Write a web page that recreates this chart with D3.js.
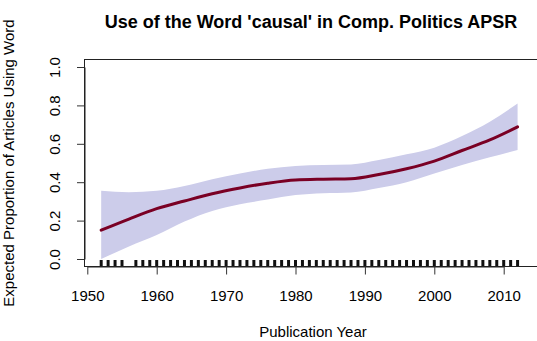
<!DOCTYPE html>
<html>
<head>
<meta charset="utf-8">
<script src="https://cdn.jsdelivr.net/npm/d3@7"></script>
<style>
  html, body { margin: 0; padding: 0; background: #fff; }
  svg { display: block; font-family: "Liberation Sans", Arial, sans-serif; }
</style>
</head>
<body>
<svg id="chart" width="537" height="341"></svg>
<script>
// Smoothed estimate of the share of articles using the word, with its interval
const years = [1952, 1956, 1960, 1964, 1968, 1972, 1976, 1980, 1984, 1988, 1992, 1996, 2000, 2004, 2008, 2012];
const fitMean = [0.150, 0.208, 0.262, 0.302, 0.340, 0.370, 0.395, 0.412, 0.416, 0.418, 0.440, 0.470, 0.510, 0.565, 0.620, 0.688];
const fitUpper = [0.355, 0.348, 0.355, 0.380, 0.415, 0.445, 0.470, 0.485, 0.490, 0.492, 0.515, 0.545, 0.580, 0.640, 0.715, 0.810];
const fitLower = [0.000, 0.065, 0.125, 0.195, 0.250, 0.285, 0.310, 0.333, 0.343, 0.347, 0.370, 0.400, 0.445, 0.490, 0.530, 0.568];

// Publication years of the articles (rug along the bottom)
const rugYears = [1952, 1953, 1954, 1955,
  1957, 1958, 1959, 1960, 1961, 1962, 1963, 1964, 1965, 1966, 1967, 1968, 1969, 1970,
  1971, 1972, 1973, 1974, 1975, 1976, 1977, 1978, 1979, 1980, 1981, 1982, 1983, 1984,
  1985, 1986, 1987, 1988, 1989, 1990, 1991, 1992, 1993, 1994, 1995, 1996, 1997, 1998,
  1999, 2000, 2001, 2002, 2003, 2004, 2005, 2006, 2007, 2008, 2009, 2010, 2011, 2012];

const xTicks = [1950, 1960, 1970, 1980, 1990, 2000, 2010];
const yTicks = [0, 0.2, 0.4, 0.6, 0.8, 1.0];

const titleText = "Use of the Word 'causal' in Comp. Politics APSR";
const xLabel = "Publication Year";
const yLabel = "Expected Proportion of Articles Using Word";

const svg = d3.select("#chart");

// plot frame
const frame = { left: 84.5, top: 59.5, bottom: 266.5, right: 545 };

const x = d3.scaleLinear().domain([1950, 2010]).range([87.3, 503.7]);
const y = d3.scaleLinear().domain([0, 1]).range([259, 67]);

const rows = years.map((yr, i) => ({ yr, m: fitMean[i], lo: fitLower[i], hi: fitUpper[i] }));

// confidence band
svg.append("path")
  .datum(rows)
  .attr("fill", "#ccccea")
  .attr("stroke", "none")
  .attr("d", d3.area()
    .x(d => x(d.yr))
    .y0(d => y(d.lo))
    .y1(d => y(d.hi))
    .curve(d3.curveMonotoneX));

// fitted line
svg.append("path")
  .datum(rows)
  .attr("fill", "none")
  .attr("stroke", "#7a0024")
  .attr("stroke-width", 3)
  .attr("stroke-linecap", "round")
  .attr("d", d3.line()
    .x(d => x(d.yr))
    .y(d => y(d.m))
    .curve(d3.curveMonotoneX));

// rug
svg.append("g")
  .selectAll("line")
  .data(rugYears)
  .join("line")
  .attr("x1", d => x(d))
  .attr("x2", d => x(d))
  .attr("y1", frame.bottom - 6.5)
  .attr("y2", frame.bottom)
  .attr("stroke", "#111")
  .attr("stroke-width", 3);

// box
svg.append("rect")
  .attr("x", frame.left)
  .attr("y", frame.top)
  .attr("width", frame.right - frame.left)
  .attr("height", frame.bottom - frame.top)
  .attr("fill", "none")
  .attr("stroke", "#222")
  .attr("stroke-width", 1);

// x axis
const xAxis = d3.axisBottom(x)
  .tickValues(xTicks)
  .tickFormat(d3.format("d"))
  .tickSize(8)
  .tickPadding(16)
  .tickSizeOuter(0);
const gx = svg.append("g")
  .attr("transform", `translate(0,${frame.bottom})`)
  .call(xAxis);
gx.select(".domain").attr("stroke", "#222");
gx.selectAll(".tick line").attr("stroke", "#333");
gx.selectAll(".tick text")
  .attr("font-size", 15)
  .attr("font-family", "Liberation Sans, Arial, sans-serif")
  .attr("fill", "#000");

// y axis
const yAxis = d3.axisLeft(y)
  .tickValues(yTicks)
  .tickFormat(d3.format(".1f"))
  .tickSize(7.5)
  .tickSizeOuter(0);
const gy = svg.append("g")
  .attr("transform", `translate(${frame.left},0)`)
  .call(yAxis);
gy.select(".domain").attr("stroke", "#222");
gy.selectAll(".tick line").attr("stroke", "#333");
gy.selectAll(".tick text")
  .attr("font-size", 15)
  .attr("font-family", "Liberation Sans, Arial, sans-serif")
  .attr("fill", "#000")
  .attr("text-anchor", "middle")
  .attr("dy", null)
  .attr("x", null)
  .attr("transform", "translate(-25,0) rotate(-90)");

// title and axis labels
svg.append("text")
  .attr("x", 311)
  .attr("y", 28)
  .attr("text-anchor", "middle")
  .attr("font-size", 18)
  .attr("font-weight", "bold")
  .text(titleText);

svg.append("text")
  .attr("x", 313)
  .attr("y", 337)
  .attr("text-anchor", "middle")
  .attr("font-size", 15)
  .text(xLabel);

svg.append("text")
  .attr("transform", "translate(14,163) rotate(-90)")
  .attr("text-anchor", "middle")
  .attr("font-size", 15)
  .text(yLabel);
</script>
</body>
</html>
